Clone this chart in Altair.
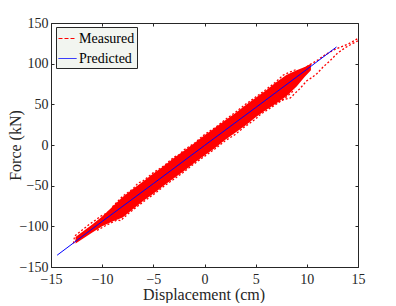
import altair as alt
import pandas as pd

# ---- axis ticks ----
x_ticks = [-15, -10, -5, 0, 5, 10, 15]
y_ticks = [-150, -100, -50, 0, 50, 100, 150]

# ---- dense core of the measured hysteresis band (upper / lower edges) ----
core_x  = [-12.6, -11.0, -10.0, -9.0, -8.0, -7.0, -6.0, -5.0, -4.0, -3.0, -2.0, -1.0, 0.0, 1.0, 2.0, 3.0, 4.0, 5.0, 6.0, 7.0, 8.0, 9.0, 9.8, 10.4]
core_hi = [-113, -98, -88, -76, -64, -54, -45, -35, -26, -16, -7, 2, 12, 21, 30, 39, 49, 58, 67, 77, 86, 92, 96, 100]
core_lo = [-121, -108, -100, -94, -89, -79, -69, -60, -50, -41, -32, -22, -13, -4, 6, 15, 24, 34, 43, 51, 60, 72, 84, 92]

# ---- measured traces (dashed loops) ----
left_outer_x = [-12.8, -12.7, -12.2, -11.6, -11.2, -10.6, -10.2, -9.6, -9.0, -8.6]
left_outer_y = [-121, -112, -107, -101, -97, -92, -88, -84, -79, -76]
left_inner_x = [-12.6, -11.8, -11.0, -10.0, -9.0]
left_inner_y = [-118, -108, -100, -91, -82]
upper_fringe_x = [-9.0, -8.0, -7.0, -6.5, -6.0, -5.0, -4.0, -3.0, -2.5, -2.0, -1.0, 0.0, 1.0, 2.0, 3.0, 4.0, 5.0, 6.0, 7.0, 7.7, 8.4, 9.0]
upper_fringe_y = [-76, -63, -54, -47, -44, -34, -26, -15, -12, -6, 2, 13, 21, 31, 40, 50, 59, 68, 78, 86, 90, 93]
lower_fringe_x = [-10.5, -9.5, -8.5, -8.2, -7.5, -7.0, -6.0, -5.0, -4.0, -3.0, -2.0, -1.0, 0.0, 1.0, 2.0, 3.0, 4.0, 5.0, 5.5, 6.0, 7.0, 8.0, 8.8]
lower_fringe_y = [-105, -98, -92, -93, -85, -80, -70, -61, -51, -42, -33, -23, -14, -5, 5, 13, 23, 32, 38, 42, 50, 59, 68]
right_upper_x = [9.0, 9.6, 10.2, 11.0, 11.8, 12.5, 13.2, 14.0, 14.6, 15.0]
right_upper_y = [88, 93, 98, 104, 111, 116, 120, 124, 128, 131]
right_lower_x = [15.0, 14.5, 13.8, 13.0, 12.3, 11.6, 11.0, 10.5, 10.0, 9.3, 8.8, 8.4, 7.8, 7.2, 6.5, 6.0]
right_lower_y = [128, 125, 120, 113, 104, 96, 88, 83, 79, 69, 63, 58, 56, 53, 48, 44]

# ---- predicted response ----
pred_x = [-14.4, -10.0, -5.0, 0.0, 5.0, 10.0, 12.9]
pred_y = [-135.5, -94.0, -47.5, -0.6, 46.0, 93.0, 120.5]

series_dom = ["Measured", "Predicted"]
series_colors = ["#ff0000", "#0000ff"]
# same labels with a zero-width space so the frame legend is not merged
frame_dom = [s + "\u200b" for s in series_dom]

W, H = 307, 244
FONT = "'Liberation Serif', 'Times New Roman', Times, serif"
AX = "#262626"

core_df = pd.DataFrame({"x": core_x, "y": core_hi, "y2": core_lo})

traces = {
    "left_outer": (left_outer_x, left_outer_y),
    "left_inner": (left_inner_x, left_inner_y),
    "upper_fringe": (upper_fringe_x, upper_fringe_y),
    "lower_fringe": (lower_fringe_x, lower_fringe_y),
    "right_upper": (right_upper_x, right_upper_y),
    "right_lower": (right_lower_x, right_lower_y),
}
rows = []
for name, (xs, ys) in traces.items():
    for i, (a, b) in enumerate(zip(xs, ys)):
        rows.append({"x": a, "y": b, "trace": name, "i": i, "series": "Measured"})
meas_df = pd.DataFrame(rows)
pred_df = pd.DataFrame({"x": pred_x, "y": pred_y, "trace": "pred",
                        "i": list(range(len(pred_x))), "series": "Predicted"})
pred_df["frame"] = frame_dom[1]

x_axis = alt.Axis(values=x_ticks, ticks=False, tickSize=0, domain=False,
                  grid=True, gridColor=AX, gridWidth=1, gridOpacity=1,
                  gridDash=[3, H - 6, 3, 400],
                  labelFont=FONT, labelFontSize=14, labelPadding=5, labelColor=AX, labelFlush=False,
                  titleFont=FONT, titleFontSize=16, titleFontWeight="normal", titleColor=AX,
                  titleX=W / 2 - 1, titleY=32, titleBaseline="alphabetic", titleAlign="center")
y_axis = alt.Axis(values=y_ticks, ticks=False, tickSize=0, domain=False,
                  grid=True, gridColor=AX, gridWidth=1, gridOpacity=1,
                  gridDash=[3, W - 6, 3, 400],
                  labelFont=FONT, labelFontSize=14, labelPadding=3, labelColor=AX, labelFlush=False,
                  titleFont=FONT, titleFontSize=16, titleFontWeight="normal", titleColor=AX,
                  titleX=-36, titleY=H / 2, titleAngle=270, titleAlign="center", titleBaseline="middle")

X = alt.X("x:Q", scale=alt.Scale(domain=[-15, 15], nice=False, zero=False), axis=x_axis, title="Displacement (cm)")
Y = alt.Y("y:Q", scale=alt.Scale(domain=[-150, 150], nice=False, zero=False), axis=y_axis, title="Force (kN)")

dash_expr = "datum.value == 'Measured' ? [4, 2] : [1, 0]"
common = dict(orient="none", legendX=5, legendY=4, title=None, padding=2,
              labelFont=FONT, labelFontSize=14, labelOffset=2,
              symbolType="stroke", symbolSize=324, rowPadding=3)

leg = alt.Legend(fillColor="#f2f5f0", labelColor="#000000", symbolStrokeWidth=1,
                 symbolDash=alt.ExprRef(dash_expr), zindex=0, **common)
frame_leg = alt.Legend(strokeColor=AX, labelOpacity=0, symbolOpacity=0, zindex=1, **common)

stroke = alt.Stroke("series:N", scale=alt.Scale(domain=series_dom, range=series_colors), legend=leg)
frame = alt.StrokeWidth("frame:N", scale=alt.Scale(domain=frame_dom, range=[1, 1]), legend=frame_leg)

core = alt.Chart(core_df).mark_area(orient="vertical", color="#ff0000", opacity=1).encode(
    x=X, y=Y, y2="y2:Q")
meas = alt.Chart(meas_df).mark_line(strokeWidth=1.3, strokeDash=[2, 2], clip=True).encode(
    x=X, y=Y, stroke=stroke, detail="trace:N", order="i:Q")
pred = alt.Chart(pred_df).mark_line(clip=True).encode(
    x=X, y=Y, stroke=stroke, strokeWidth=frame, order="i:Q")

chart = alt.layer(core, meas, pred).properties(
    width=W, height=H,
    padding={"left": 43, "top": 15, "right": 30, "bottom": 36},
    autosize=alt.AutoSizeParams(type="none"),
).configure_view(stroke=AX, strokeWidth=1).configure_axis(
    labelFont=FONT, titleFont=FONT
)

chart.save("out.html", embed_options={"renderer": "svg", "actions": False})
